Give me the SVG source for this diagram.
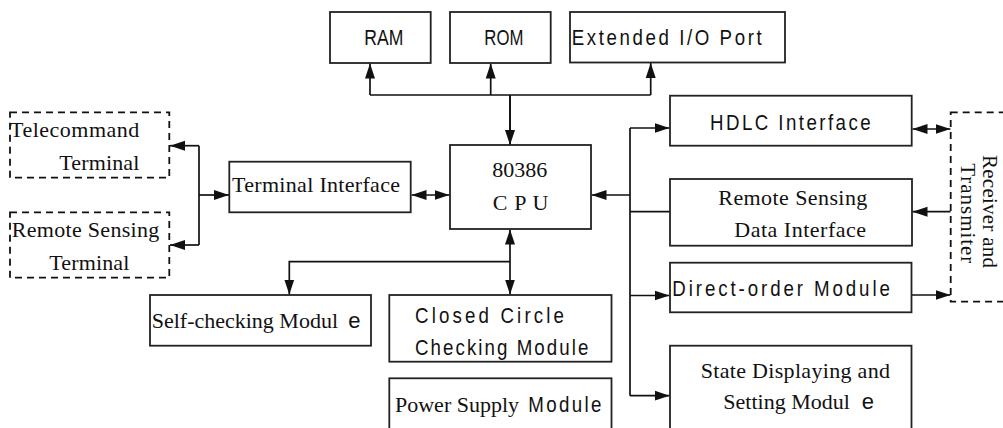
<svg xmlns="http://www.w3.org/2000/svg" width="1003" height="428" viewBox="0 0 1003 428">
<style>
.b{fill:#fff;stroke:#222;stroke-width:1.8}
.d{fill:#fff;stroke:#111;stroke-width:1.8;stroke-dasharray:7 5}
.c{fill:none;stroke:#111;stroke-width:1.7}
.t{font-family:"Liberation Serif","Times New Roman",serif;font-size:22px;fill:#111}
.s{font-family:"Liberation Sans",Arial,sans-serif;font-size:22px;fill:#111}
.r{font-family:"Liberation Serif","Times New Roman",serif;font-size:21px;fill:#111}
</style>
<defs>
<marker id="a" markerUnits="userSpaceOnUse" markerWidth="16" markerHeight="11" refX="15" refY="5" orient="auto-start-reverse" viewBox="0 0 16 10">
<path d="M0,0 L15,5 L0,10 z" fill="#111"/>
</marker>
</defs>
<g id="connectors">
<path class="c" d="M370,95 H650.7 M510,95 V145"/>
<path class="c" d="M370,95 V63.5" marker-end="url(#a)"/>
<path class="c" d="M490.7,95 V63.5" marker-end="url(#a)"/>
<path class="c" d="M650.7,95 V63" marker-end="url(#a)"/>
<path class="c" d="M510,95 V145" marker-end="url(#a)"/>
<path class="c" d="M411.5,195 H449.5" marker-start="url(#a)" marker-end="url(#a)"/>
<path class="c" d="M630,195 H591.5" marker-end="url(#a)"/>
<path class="c" d="M630,128 V395.7 M630,211.7 H670"/>
<path class="c" d="M630,128 H669.5" marker-end="url(#a)"/>
<path class="c" d="M630,295.5 H669.5" marker-end="url(#a)"/>
<path class="c" d="M630,395.7 H669.5" marker-end="url(#a)"/>
<path class="c" d="M912.5,129 H950.5" marker-start="url(#a)" marker-end="url(#a)"/>
<path class="c" d="M950.7,211.7 H912.5" marker-end="url(#a)"/>
<path class="c" d="M912,295 H950.5" marker-end="url(#a)"/>
<path class="c" d="M199,145.7 V245"/>
<path class="c" d="M199,145.7 H170" marker-end="url(#a)"/>
<path class="c" d="M199,245 H170" marker-end="url(#a)"/>
<path class="c" d="M199,195 H229" marker-end="url(#a)"/>
<path class="c" d="M510,229.5 V294.5" marker-start="url(#a)" marker-end="url(#a)"/>
<path class="c" d="M510,261.7 H289.3 V294.5" marker-end="url(#a)"/>
</g>
<g id="ram">
<rect class="b" x="330" y="12" width="100.7" height="51"/>
<text class="s" transform="translate(364.3,45) scale(0.85,1)" textLength="45.9" lengthAdjust="spacingAndGlyphs">RAM</text>
</g>
<g id="rom">
<rect class="b" x="450" y="12" width="100.7" height="51"/>
<text class="s" transform="translate(484.3,45) scale(0.85,1)" textLength="45.9" lengthAdjust="spacingAndGlyphs">ROM</text>
</g>
<g id="extended-io">
<rect class="b" x="570" y="12" width="215" height="50.5"/>
<text class="s" transform="translate(571.7,45) scale(0.85,1)" textLength="223.5" lengthAdjust="spacing">Extended I/O Port</text>
</g>
<g id="cpu">
<rect class="b" x="450" y="145" width="141" height="84"/>
<text class="t" x="492.3" y="176.7">80386</text>
<text class="t" x="492.7" y="210" textLength="55.6" lengthAdjust="spacing">C P U</text>
</g>
<g id="terminal-interface">
<rect class="b" x="229.3" y="161.7" width="181.4" height="50.6"/>
<text class="t" x="232" y="192.3" textLength="168" lengthAdjust="spacing">Terminal Interface</text>
</g>
<g id="telecommand-terminal">
<rect class="d" x="10" y="112.3" width="159.3" height="65.4"/>
<text class="t" x="10" y="136.7" textLength="129.3" lengthAdjust="spacing">Telecommand</text>
<text class="t" x="59.3" y="170" textLength="80" lengthAdjust="spacing">Terminal</text>
</g>
<g id="remote-sensing-terminal">
<rect class="d" x="10" y="212.3" width="159.3" height="65.4"/>
<text class="t" x="11.7" y="236.7" textLength="147.6" lengthAdjust="spacing">Remote Sensing</text>
<text class="t" x="49.3" y="270" textLength="80" lengthAdjust="spacing">Terminal</text>
</g>
<g id="self-checking">
<rect class="b" x="150" y="295" width="221" height="50.7"/>
<text y="328.3"><tspan class="t" x="151.7">Self-checking Modul</tspan><tspan class="s" x="348.3">e</tspan></text>
</g>
<g id="closed-circle">
<rect class="b" x="389.3" y="295" width="222.2" height="66.7"/>
<text class="s" transform="translate(415,323.3) scale(0.85,1)" textLength="175.3" lengthAdjust="spacing">Closed Circle</text>
<text class="s" transform="translate(415,355) scale(0.85,1)" textLength="203.9" lengthAdjust="spacing">Checking Module</text>
</g>
<g id="power-supply">
<rect class="b" x="389.3" y="378.3" width="222.2" height="70"/>
<text class="t" x="395" y="411.7">Power Supply</text>
<text class="s" transform="translate(528.3,411.7) scale(0.85,1)" textLength="85.9" lengthAdjust="spacing">Module</text>
</g>
<g id="hdlc">
<rect class="b" x="670" y="95.7" width="241.7" height="50"/>
<text class="s" transform="translate(710,130) scale(0.85,1)" textLength="189" lengthAdjust="spacing">HDLC Interface</text>
</g>
<g id="rs-data-interface">
<rect class="b" x="670" y="179" width="242" height="66.7"/>
<text class="t" x="718.3" y="205" textLength="149" lengthAdjust="spacing">Remote Sensing</text>
<text class="t" x="734.3" y="236.7" textLength="131.7" lengthAdjust="spacing">Data Interface</text>
</g>
<g id="direct-order">
<rect class="b" x="670" y="262.7" width="241.5" height="49.6"/>
<text class="s" transform="translate(672.3,295.7) scale(0.85,1)" textLength="256" lengthAdjust="spacing">Direct-order Module</text>
</g>
<g id="state-display">
<rect class="b" x="670" y="345.7" width="241.5" height="100"/>
<text class="t" x="700.7" y="378.3" textLength="189.3" lengthAdjust="spacing">State Displaying and</text>
<text y="409.3"><tspan class="t" x="723.3">Setting Modul</tspan><tspan class="s" x="861.7">e</tspan></text>
</g>
<g id="receiver-transmitter">
<rect class="d" x="950.7" y="112.3" width="70" height="189.4"/>
<text class="r" transform="translate(982.5,155) rotate(90)" textLength="113" lengthAdjust="spacing">Receiver and</text>
<text class="r" transform="translate(961,163.3) rotate(90)" textLength="100" lengthAdjust="spacing">Transmiter</text>
</g>
</svg>
